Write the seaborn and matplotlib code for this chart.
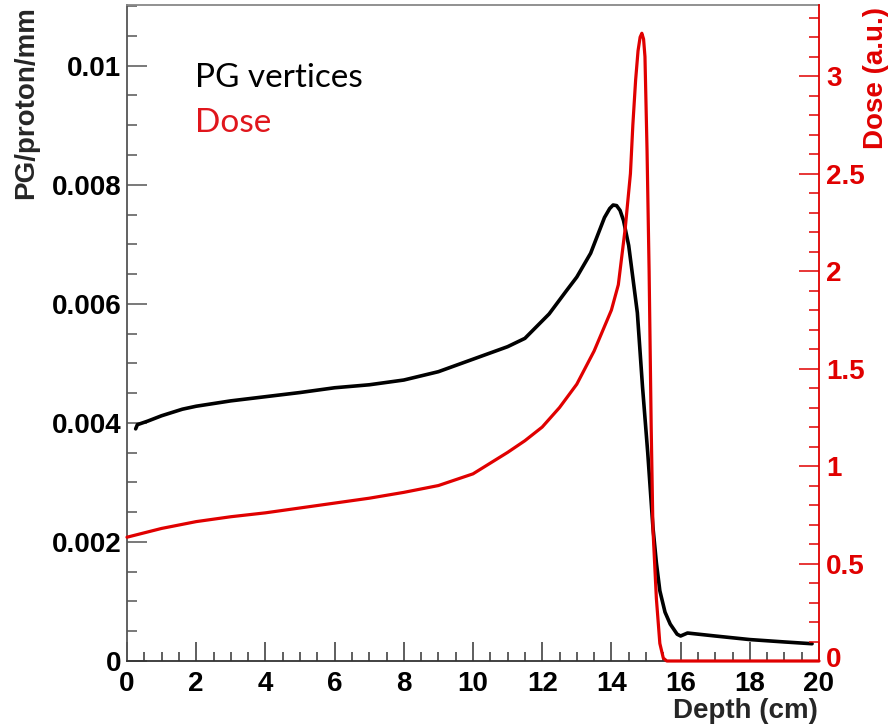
import matplotlib
matplotlib.use("Agg")
import matplotlib.pyplot as plt
from matplotlib.ticker import MultipleLocator, FixedLocator
from matplotlib.transforms import blended_transform_factory, ScaledTranslation
import seaborn as sns
import pandas as pd

# ---- data ----
pg_depth = [0.25, 0.3, 0.6, 1.0, 1.6, 2.0, 3.0, 4.0, 5.0, 6.0, 7.0, 8.0, 9.0, 10.0,
            11.0, 11.5, 12.2, 12.7, 13.0, 13.4, 13.6, 13.8, 13.95, 14.05, 14.15, 14.25,
            14.35, 14.5, 14.75, 14.9, 15.05, 15.2, 15.3, 15.4, 15.55, 15.7, 15.9, 16.0,
            16.2, 17.0, 18.0, 19.0, 19.8]
pg_vertices = [0.00390, 0.00397, 0.00403, 0.00412, 0.00423, 0.00428, 0.00437, 0.00444,
               0.00451, 0.00459, 0.00464, 0.00472, 0.00486, 0.00507, 0.00528, 0.00542,
               0.00583, 0.00622, 0.00645, 0.00685, 0.00715, 0.00745, 0.00760, 0.00766,
               0.00765, 0.00757, 0.00740, 0.00698, 0.00585, 0.00460, 0.00350, 0.00225,
               0.00165, 0.00118, 0.00082, 0.00062, 0.00045, 0.00042, 0.00047, 0.00042,
               0.00036, 0.00032, 0.00029]

dose_depth = [0, 1, 2, 3, 4, 5, 6, 7, 8, 9, 10, 11, 11.5, 12, 12.5, 13, 13.5, 14, 14.2,
              14.4, 14.55, 14.62, 14.7, 14.77, 14.83, 14.88, 14.93, 14.97, 15.03, 15.09,
              15.15, 15.2, 15.3, 15.4, 15.5, 15.6, 16, 18, 20]
dose = [0.635, 0.68, 0.715, 0.74, 0.76, 0.785, 0.81, 0.835, 0.865, 0.90, 0.96, 1.07,
        1.13, 1.20, 1.30, 1.42, 1.59, 1.80, 1.93, 2.22, 2.50, 2.75, 2.98, 3.13, 3.20,
        3.22, 3.19, 3.10, 2.62, 2.00, 1.20, 0.68, 0.32, 0.09, 0.015, 0.0, 0.0, 0.0, 0.0]

x_ticks = [0, 2, 4, 6, 8, 10, 12, 14, 16, 18, 20]
left_ticks = [0, 0.002, 0.004, 0.006, 0.008, 0.01]
left_labels = ["0", "0.002", "0.004", "0.006", "0.008", "0.01"]
right_ticks = [0, 0.5, 1, 1.5, 2, 2.5, 3]
right_labels = ["0", "0.5", "1", "1.5", "2", "2.5", "3"]

pg_df = pd.DataFrame({"depth": pg_depth, "pg": pg_vertices})
dose_df = pd.DataFrame({"depth": dose_depth, "dose": dose})

# ---- style ----
sns.set_style("white")
plt.rcParams["font.family"] = ["Liberation Sans", "DejaVu Sans"]

RED = "#e00000"
W, H = 891, 727
fig = plt.figure(figsize=(W / 100, H / 100), dpi=100)
L, R, T, B = 127, 819, 5, 661
ax = fig.add_axes([L / W, 1 - B / H, (R - L) / W, (B - T) / H])
ax2 = ax.twinx()

sns.lineplot(data=pg_df, x="depth", y="pg", ax=ax, color="black", lw=2.6)
sns.lineplot(data=dose_df, x="depth", y="dose", ax=ax2, color=RED, lw=2.3, clip_on=False)

ax.set_xlim(0, 20)
ax.set_ylim(0, 0.01102)
ax2.set_ylim(0, 3.365)

# x axis
ax.xaxis.set_major_locator(FixedLocator(x_ticks))
ax.xaxis.set_minor_locator(MultipleLocator(0.5))
ax.set_xticklabels([str(t) for t in x_ticks])
# left axis
ax.yaxis.set_major_locator(FixedLocator(left_ticks))
ax.yaxis.set_minor_locator(MultipleLocator(0.0005))
ax.set_yticklabels(left_labels)
# right axis: the "0" label is drawn separately, a touch higher, so it does not sit on "20"
ax2.yaxis.set_major_locator(FixedLocator(right_ticks))
ax2.yaxis.set_minor_locator(MultipleLocator(0.1))
ax2.set_yticklabels([""] + right_labels[1:])

for lab in ax.get_xticklabels() + ax.get_yticklabels():
    lab.set_fontsize(20); lab.set_fontweight("bold"); lab.set_color("black")
for lab in ax2.get_yticklabels():
    lab.set_fontsize(20); lab.set_fontweight("bold"); lab.set_color(RED)

tr0 = blended_transform_factory(ax2.transAxes, ax2.transData) + \
    ScaledTranslation(7 / 100, 4 / 100, fig.dpi_scale_trans)
ax2.text(1.0, right_ticks[0], right_labels[0], transform=tr0, fontsize=20,
         fontweight="bold", color=RED, ha="left", va="center_baseline", clip_on=False)

ax.tick_params(axis="x", which="major", direction="in", length=13.5, width=1.1,
               color="#333333", pad=7.5, bottom=True, top=False)
ax.tick_params(axis="x", which="minor", direction="in", length=6.5, width=1.1,
               color="#333333", bottom=True, top=False)
ax.tick_params(axis="y", which="major", direction="in", length=14.5, width=1.1,
               color="#555555", pad=4, left=True, right=False)
ax.tick_params(axis="y", which="minor", direction="in", length=7.2, width=1.1,
               color="#555555", left=True, right=False)
ax2.tick_params(axis="y", which="major", direction="in", length=14.5, width=1.1,
                color=RED, pad=5, right=True, left=False)
ax2.tick_params(axis="y", which="minor", direction="in", length=7.2, width=1.1,
                color=RED, right=True, left=False)

for s in ["left", "top", "bottom"]:
    ax2.spines[s].set_visible(False)
ax.spines["right"].set_visible(False)
ax.spines["left"].set_color("#555555")
ax.spines["top"].set_color("#888888")
ax.spines["bottom"].set_color("#333333")
for s in ["left", "top", "bottom"]:
    ax.spines[s].set_linewidth(1.3)
ax2.spines["right"].set_color(RED)
ax2.spines["right"].set_linewidth(1.3)

# axis titles
ax.set_xlabel("Depth (cm)", fontsize=20, fontweight="bold", ha="right", va="center")
ax.xaxis.set_label_coords((818 - L) / (R - L), (B - 711) / (B - T))

yl = ax.set_ylabel("PG/proton/mm", fontsize=20, fontweight="bold")
yl.set_rotation_mode("default"); yl.set_ha("center"); yl.set_va("top")
ax.yaxis.set_label_coords((26 - L) / (R - L), (B - 6) / (B - T))

yl2 = ax2.set_ylabel("Dose (a.u.)", fontsize=20, fontweight="bold", color=RED)
yl2.set_rotation(90)
yl2.set_rotation_mode("default"); yl2.set_ha("center"); yl2.set_va("top")
ax2.yaxis.set_label_coords((876 - L) / (R - L), (B - 7) / (B - T))

# legend-like text
ax.text((195 - L) / (R - L), (B - 87) / (B - T), "PG vertices", transform=ax.transAxes,
        fontsize=24, color="black", family=["Lato", "DejaVu Sans"], va="baseline", ha="left")
ax.text((195 - L) / (R - L), (B - 132) / (B - T), "Dose", transform=ax.transAxes,
        fontsize=24, color="#e0161c", family=["Lato", "DejaVu Sans"], va="baseline", ha="left")

fig.savefig("out.png", dpi=100)
